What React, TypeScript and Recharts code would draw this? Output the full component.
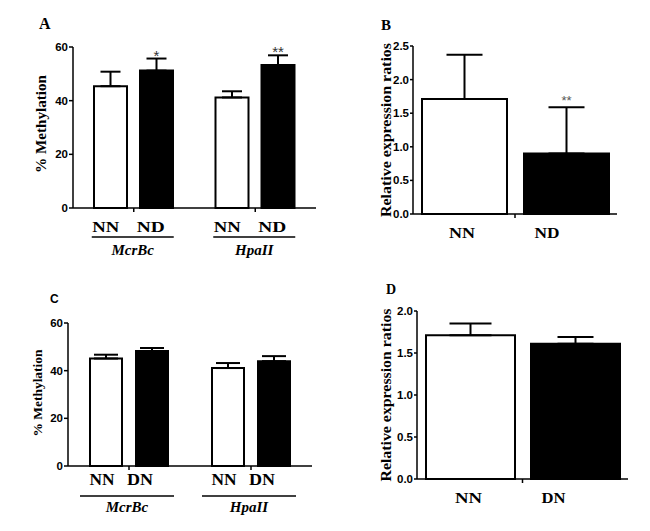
import { BarChart, Bar, XAxis, YAxis, ErrorBar, LabelList } from "recharts";

// shared
const groupNames = ["McrBc", "HpaII"];
const methTicks = [0, 20, 40, 60];

// A: % methylation, NN vs ND
const aNN = [45.4, 41.2];
const aNNErr = [5.4, 2.3];
const aND = [51.2, 53.3];
const aNDErr = [4.5, 3.6];
const aStars = ["*", "**"];

// B: relative expression, NN vs ND
const bNN = [1.71];
const bNNErr = [0.66];
const bND = [0.9];
const bNDErr = [0.69];
const bStars = ["**"];
const bTicks = [0, 0.5, 1, 1.5, 2, 2.5];

// C: % methylation, NN vs DN
const cNN = [45.1, 41.1];
const cNNErr = [1.6, 2.1];
const cDN = [48.2, 44.0];
const cDNErr = [1.3, 2.1];

// D: relative expression, NN vs DN
const dNN = [1.71];
const dNNErr = [0.14];
const dDN = [1.61];
const dDNErr = [0.08];
const dTicks = [0, 0.5, 1, 1.5, 2];

const serif = "'Liberation Serif', 'Times New Roman', serif";
const sans = "'Liberation Sans', Arial, sans-serif";

const rowsA = groupNames.map((g, i) => ({
  g,
  nn: aNN[i],
  nnErr: [0, aNNErr[i]],
  dd: aND[i],
  ddErr: [0, aNDErr[i]],
  star: aStars[i],
}));
const rowsB = [{ g: "expr", nn: bNN[0], nnErr: [0, bNNErr[0]], dd: bND[0], ddErr: [0, bNDErr[0]], star: bStars[0] }];
const rowsC = groupNames.map((g, i) => ({
  g,
  nn: cNN[i],
  nnErr: [0, cNNErr[i]],
  dd: cDN[i],
  ddErr: [0, cDNErr[i]],
}));
const rowsD = [{ g: "expr", nn: dNN[0], nnErr: [0, dNNErr[0]], dd: dDN[0], ddErr: [0, dDNErr[0]] }];

const TS = 4;
const TM = 2;
const axisStyle = { stroke: "#000", strokeWidth: 1.5 };

type TickOpt = {
  labels: [string, string];
  dx: [number, number];
  widths: [number, number];
  base: number;
  size: number;
  under?: { half: number; dy: number; textDy: number; shift: number };
};

function makeXTick(o: TickOpt) {
  return (p: any) => {
    const x = p.x;
    const ay = p.y - TS - TM;
    return (
      <g>
        {o.labels.map((s, k) => (
          <text
            key={s + k}
            x={x + o.dx[k]}
            y={ay + o.base}
            textAnchor="middle"
            fontFamily={serif}
            fontWeight="bold"
            fontSize={o.size}
            textLength={o.widths[k]}
            lengthAdjust="spacingAndGlyphs"
            fill="#000"
          >
            {s}
          </text>
        ))}
        {o.under && (
          <>
            <line
              x1={x + o.under.shift - o.under.half}
              x2={x + o.under.shift + o.under.half}
              y1={ay + o.under.dy}
              y2={ay + o.under.dy}
              stroke="#000"
              strokeWidth={1.5}
            />
            <text
              x={x + o.under.shift}
              y={ay + o.under.textDy}
              textAnchor="middle"
              fontFamily={serif}
              fontWeight="bold"
              fontStyle="italic"
              fontSize={15}
              fill="#000"
            >
              {p.payload.value}
            </text>
          </>
        )}
      </g>
    );
  };
}

function starLabel(values: number[], errs: number[], lift: number, size: number, color: string) {
  return (p: any) => {
    const vb = p.viewBox ?? p;
    const i = p.index ?? 0;
    if (!p.value) return null;
    const h = Math.abs(vb.height);
    const barTop = Math.min(vb.y, vb.y + vb.height);
    const top = barTop - errs[i] * (h / values[i]);
    return (
      <text
        x={vb.x + vb.width / 2}
        y={top + lift}
        textAnchor="middle"
        fontFamily={sans}
        fontSize={size}
        fill={color}
      >
        {p.value}
      </text>
    );
  };
}

const yTick = { fill: "#000", fontSize: 11.5, fontWeight: "bold", fontFamily: sans };
const fmt1 = (v: number) => v.toFixed(1);

function RotLabel({ x, y, text, size, len }: { x: number; y: number; text: string; size: number; len: number }) {
  return (
    <text
      x={x}
      y={y}
      transform={`rotate(-90 ${x} ${y})`}
      textAnchor="middle"
      dominantBaseline="central"
      fontFamily={serif}
      fontWeight="bold"
      fontSize={size}
      textLength={len}
      lengthAdjust="spacingAndGlyphs"
      fill="#000"
    >
      {text}
    </text>
  );
}

export default function App() {
  return (
    <div style={{ position: "absolute", left: 0, top: 0, width: 650, height: 531, background: "#fff", overflow: "hidden" }}>
      {/* A */}
      <div style={{ position: "absolute", left: 0, top: 0 }}>
        <BarChart width={330} height={270} data={rowsA} margin={{ top: 47, right: 14, bottom: 12, left: 43 }} barCategoryGap={21} barGap={13}>
          <XAxis
            dataKey="g"
            height={50}
            interval={0}
            tickSize={TS}
            tickMargin={TM}
            axisLine={axisStyle}
            tickLine={axisStyle}
            tick={makeXTick({ labels: ["NN", "ND"], dx: [-28, 17], widths: [27, 28], base: 24, size: 15, under: { half: 41, dy: 29, textDy: 47, shift: -1 } })}
          />
          <YAxis width={30} domain={[0, 60]} ticks={methTicks} interval={0} tickSize={4} tickMargin={1} axisLine={axisStyle} tickLine={axisStyle} tick={yTick} />
          <Bar dataKey="nn" fill="#fff" stroke="#000" strokeWidth={2} isAnimationActive={false}>
            <ErrorBar dataKey="nnErr" width={10} stroke="#000" strokeWidth={2} />
          </Bar>
          <Bar dataKey="dd" fill="#000" stroke="#000" strokeWidth={2} isAnimationActive={false}>
            <ErrorBar dataKey="ddErr" width={10} stroke="#000" strokeWidth={2} />
            <LabelList dataKey="star" content={starLabel(aND, aNDErr, 2, 15, "#333")} />
          </Bar>
        </BarChart>
      </div>

      {/* B */}
      <div style={{ position: "absolute", left: 330, top: 0 }}>
        <BarChart width={320} height={270} data={rowsB} margin={{ top: 46, right: 33, bottom: 16, left: 51 }} barCategoryGap={9} barGap={17}>
          <XAxis
            dataKey="g"
            height={40}
            interval={0}
            tickSize={TS}
            tickMargin={TM}
            axisLine={axisStyle}
            tickLine={axisStyle}
            tick={makeXTick({ labels: ["NN", "ND"], dx: [-53, 32], widths: [26, 25], base: 24, size: 15 })}
          />
          <YAxis width={32} domain={[0, 2.5]} ticks={bTicks} interval={0} tickSize={3} tickMargin={1} tickFormatter={fmt1} axisLine={axisStyle} tickLine={axisStyle} tick={yTick} />
          <Bar dataKey="nn" fill="#fff" stroke="#000" strokeWidth={2} isAnimationActive={false}>
            <ErrorBar dataKey="nnErr" width={18} stroke="#000" strokeWidth={2} />
          </Bar>
          <Bar dataKey="dd" fill="#000" stroke="#000" strokeWidth={2} isAnimationActive={false}>
            <ErrorBar dataKey="ddErr" width={18} stroke="#000" strokeWidth={2} />
            <LabelList dataKey="star" content={starLabel(bND, bNDErr, -2, 13, "#555")} />
          </Bar>
        </BarChart>
      </div>

      {/* C */}
      <div style={{ position: "absolute", left: 0, top: 270 }}>
        <BarChart width={330} height={261} data={rowsC} margin={{ top: 53, right: 18, bottom: 10, left: 38 }} barCategoryGap={22} barGap={14}>
          <XAxis
            dataKey="g"
            height={55}
            interval={0}
            tickSize={TS}
            tickMargin={TM}
            axisLine={axisStyle}
            tickLine={axisStyle}
            tick={makeXTick({ labels: ["NN", "DN"], dx: [-27, 11], widths: [25, 26], base: 19, size: 16, under: { half: 47, dy: 30, textDy: 46, shift: -2 } })}
          />
          <YAxis width={30} domain={[0, 60]} ticks={methTicks} interval={0} tickSize={4} tickMargin={1} axisLine={axisStyle} tickLine={axisStyle} tick={yTick} />
          <Bar dataKey="nn" fill="#fff" stroke="#000" strokeWidth={2} isAnimationActive={false}>
            <ErrorBar dataKey="nnErr" width={12} stroke="#000" strokeWidth={2} />
          </Bar>
          <Bar dataKey="dd" fill="#000" stroke="#000" strokeWidth={2} isAnimationActive={false}>
            <ErrorBar dataKey="ddErr" width={12} stroke="#000" strokeWidth={2} />
          </Bar>
        </BarChart>
      </div>

      {/* D */}
      <div style={{ position: "absolute", left: 330, top: 270 }}>
        <BarChart width={320} height={261} data={rowsD} margin={{ top: 41, right: 22, bottom: 12, left: 55 }} barCategoryGap={9} barGap={16}>
          <XAxis
            dataKey="g"
            height={40}
            interval={0}
            tickSize={TS}
            tickMargin={TM}
            axisLine={axisStyle}
            tickLine={axisStyle}
            tick={makeXTick({ labels: ["NN", "DN"], dx: [-54, 31], widths: [27, 24], base: 24, size: 15 })}
          />
          <YAxis width={32} domain={[0, 2]} ticks={dTicks} interval={0} tickSize={3} tickMargin={1} tickFormatter={fmt1} axisLine={axisStyle} tickLine={axisStyle} tick={yTick} />
          <Bar dataKey="nn" fill="#fff" stroke="#000" strokeWidth={2} isAnimationActive={false}>
            <ErrorBar dataKey="nnErr" width={21} stroke="#000" strokeWidth={2} />
          </Bar>
          <Bar dataKey="dd" fill="#000" stroke="#000" strokeWidth={2} isAnimationActive={false}>
            <ErrorBar dataKey="ddErr" width={18} stroke="#000" strokeWidth={2} />
          </Bar>
        </BarChart>
      </div>

      {/* panel letters and y-axis titles */}
      <svg width={650} height={531} style={{ position: "absolute", left: 0, top: 0, pointerEvents: "none" }}>
        <text x={39} y={29} fontFamily={serif} fontWeight="bold" fontSize={16} fill="#000">A</text>
        <text x={381} y={30} fontFamily={serif} fontWeight="bold" fontSize={15} fill="#000">B</text>
        <text x={50} y={303} fontFamily={sans} fontWeight="bold" fontSize={12} fill="#000">C</text>
        <text x={386} y={294} fontFamily={serif} fontWeight="bold" fontSize={14} fill="#000">D</text>
        <RotLabel x={41} y={124} text="% Methylation" size={14} len={98} />
        <RotLabel x={386} y={130} text="Relative expression ratios" size={14} len={174} />
        <RotLabel x={37} y={393} text="% Methylation" size={13} len={87} />
        <RotLabel x={386} y={395} text="Relative expression ratios" size={14} len={173} />
      </svg>
    </div>
  );
}
